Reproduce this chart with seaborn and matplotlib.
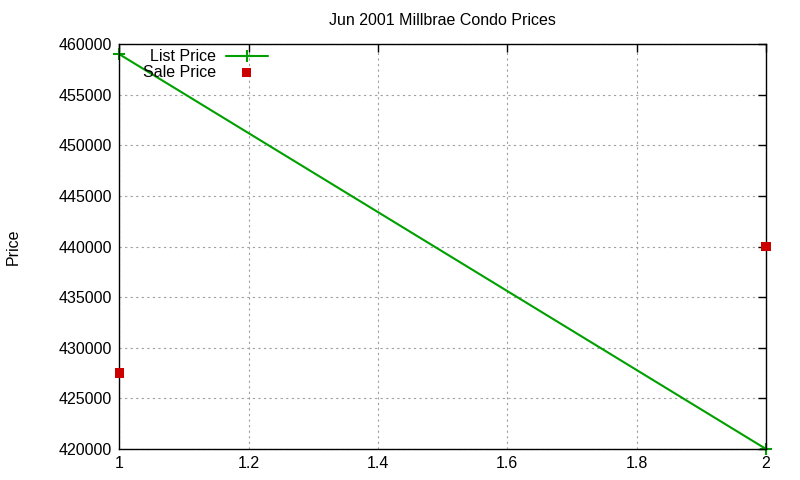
import matplotlib
matplotlib.use('Agg')
import matplotlib.pyplot as plt
import seaborn as sns
import pandas as pd

# data
months = [1, 2]
list_price = [459000, 420000]
sale_price = [427500, 440000]
x_ticks = [1, 1.2, 1.4, 1.6, 1.8, 2]
y_ticks = list(range(420000, 460001, 5000))

df = pd.DataFrame({"x": months, "List Price": list_price, "Sale Price": sale_price})

sns.set_style("white")
plt.rcParams['font.family'] = ['Liberation Sans', 'DejaVu Sans']
plt.rcParams['text.color'] = 'black'

fig = plt.figure(figsize=(8, 4.8), dpi=100)
ax = fig.add_axes([0.149, 0.0646, 0.8085, 0.8437])

sns.lineplot(data=df, x="x", y="List Price", ax=ax, color="#00a000", lw=1.5,
             marker="+", markersize=9, markeredgewidth=1.5,
             markeredgecolor="#00a000", label="List Price", clip_on=False)
sns.scatterplot(data=df, x="x", y="Sale Price", ax=ax, color="#cc0000", marker="s",
                s=45, edgecolor="none", label="Sale Price", clip_on=False, zorder=5)

ax.set_xlim(1, 2)
ax.set_ylim(420000, 460000)
ax.set_xticks(x_ticks)
ax.set_xticklabels([f"{t:g}" for t in x_ticks])
ax.set_yticks(y_ticks)
ax.set_yticklabels([str(t) for t in y_ticks])
ax.tick_params(direction="in", length=6, width=1, top=True, right=True,
               labelsize=11.5, colors="black", labelcolor="black", pad=5)
ax.grid(True, color="#a0a0a0", linestyle=(0, (2, 3)), lw=0.8)
for s in ax.spines.values():
    s.set_color("black")
    s.set_linewidth(1)

ax.set_xlabel("")
ax.set_ylabel("")
fig.text(0.016, 0.485, "Price", rotation=90, ha="center", va="center",
         fontsize=11.5, color="black")
ax.set_title("Jun 2001 Millbrae Condo Prices", fontsize=11.5, pad=14, color="black")

leg = ax.legend(loc="upper left", bbox_to_anchor=(0.02, 1.015), frameon=False,
                markerfirst=False, fontsize=11.5, handlelength=2.6,
                labelspacing=0.05, borderaxespad=0.3, handletextpad=0.6)
for t in leg.get_texts():
    t.set_ha("right")
    t.set_color("black")

fig.savefig("out.png", dpi=100)
